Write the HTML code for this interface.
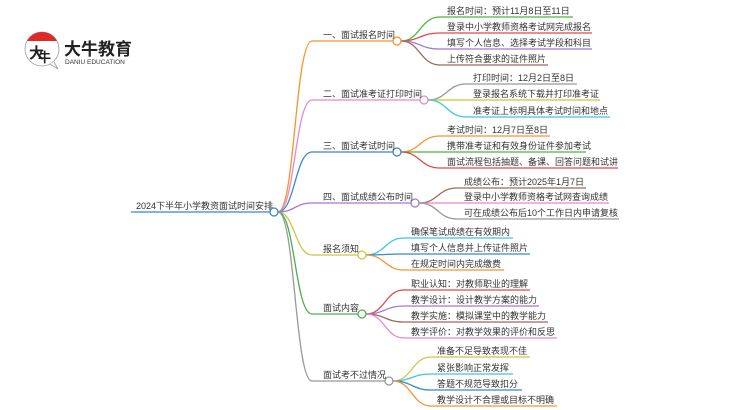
<!DOCTYPE html>
<html><head><meta charset="utf-8"><style>
html,body{margin:0;padding:0;background:#fff;}
svg{display:block;}
text{font-family:"Liberation Sans","Noto Sans CJK SC",sans-serif;font-size:9px;fill:#333;}
</style></head><body>
<svg width="750" height="410" viewBox="0 0 750 410" xmlns="http://www.w3.org/2000/svg">
<!-- logo -->
<circle cx="42" cy="49" r="17" fill="#fff" stroke="#999" stroke-width="0.8"/>
<path d="M27 41 A17 17 0 0 1 57 41 Z" fill="#e02a2a"/>
<path d="M50 64 L58 69 L54 62" fill="#fff" stroke="#999" stroke-width="0.8"/>
<text x="29" y="58" style="font-size:15px;fill:#222;font-weight:bold">大</text>
<text x="38" y="62" style="font-size:13px;fill:#222;font-weight:bold">牛</text>
<text x="64" y="55" style="font-size:17px;fill:#222;font-weight:bold">大牛教育</text>
<text x="65" y="64" style="font-size:6.5px;fill:#333">DANIU EDUCATION</text>

<g fill="none" stroke-width="1.3">
<path d="M131 212 L270 212" stroke="#3a87c8"/>
<path d="M278 212 C295 212,295 41,312 41 L393 41" stroke="#f7942d"/>
<path d="M278 212 C295 212,295 100,312 100 L420 100" stroke="#e889c8"/>
<path d="M278 212 C295 212,295 152,312 152 L393 152" stroke="#3a87c8"/>
<path d="M278 212 C295 212,295 203,312 203 L411 203" stroke="#a07bd0"/>
<path d="M278 212 C295 212,295 255,312 255 L358 255" stroke="#c8c84a"/>
<path d="M278 212 C295 212,295 314,312 314 L358 314" stroke="#4caf50"/>
<path d="M278 212 C295 212,295 381,312 381 L385 381" stroke="#999"/>
<path d="M401 41 C420 41,420 17,440 17 L573 17" stroke="#4bb83a"/>
<path d="M401 41 C420 41,420 33,440 33 L592 33" stroke="#e04848"/>
<path d="M401 41 C420 41,420 49,440 49 L592 49" stroke="#a07bd0"/>
<path d="M401 41 C420 41,420 65,440 65 L548 65" stroke="#9a6a5a"/>
<path d="M428 100 C447 100,447 84,466 84 L577 84" stroke="#999"/>
<path d="M428 100 C447 100,447 100,466 100 L600 100" stroke="#c8c83a"/>
<path d="M428 100 C447 100,447 117,466 117 L610 117" stroke="#3cc8dc"/>
<path d="M401 152 C420 152,420 136,440 136 L550 136" stroke="#f7942d"/>
<path d="M401 152 C420 152,420 152,440 152 L586 152" stroke="#4bb83a"/>
<path d="M401 152 C420 152,420 168,440 168 L618 168" stroke="#e04848"/>
<path d="M419 203 C438 203,438 188,457 188 L586 188" stroke="#9a6a5a"/>
<path d="M419 203 C438 203,438 203,457 203 L609 203" stroke="#e889c8"/>
<path d="M419 203 C438 203,438 219,457 219 L619 219" stroke="#999"/>
<path d="M366 255 C385 255,385 238,404 238 L513 238" stroke="#3cc8dc"/>
<path d="M366 255 C385 255,385 254,404 254 L530 254" stroke="#3a87c8"/>
<path d="M366 255 C385 255,385 270,404 270 L504 270" stroke="#f7942d"/>
<path d="M366 314 C385 314,385 290,404 290 L530 290" stroke="#e04848"/>
<path d="M366 314 C385 314,385 306,404 306 L539 306" stroke="#a07bd0"/>
<path d="M366 314 C385 314,385 322,404 322 L548 322" stroke="#9a6a5a"/>
<path d="M366 314 C385 314,385 338,404 338 L557 338" stroke="#e889c8"/>
<path d="M393 381 C412 381,412 357,431 357 L530 357" stroke="#c8c84a"/>
<path d="M393 381 C412 381,412 374,431 374 L513 374" stroke="#3cc8dc"/>
<path d="M393 381 C412 381,412 390,431 390 L522 390" stroke="#3a87c8"/>
<path d="M393 381 C412 381,412 406,431 406 L557 406" stroke="#f7942d"/>
</g>
<g fill="#fff" stroke-width="1.3">
<circle cx="274" cy="212" r="4" stroke="#3a87c8"/>
<circle cx="397" cy="41" r="4" stroke="#f7942d"/>
<circle cx="424" cy="100" r="4" stroke="#e889c8"/>
<circle cx="397" cy="152" r="4" stroke="#3a87c8"/>
<circle cx="415" cy="203" r="4" stroke="#a07bd0"/>
<circle cx="362" cy="255" r="4" stroke="#c8c84a"/>
<circle cx="362" cy="314" r="4" stroke="#4caf50"/>
<circle cx="389" cy="381" r="4" stroke="#999"/>
</g>
<text x="136" y="209">2024下半年小学教资面试时间安排</text>
<text x="323" y="38">一、面试报名时间</text>
<text x="323" y="97">二、面试准考证打印时间</text>
<text x="323" y="149">三、面试考试时间</text>
<text x="323" y="200">四、面试成绩公布时间</text>
<text x="323" y="252">报名须知</text>
<text x="323" y="311">面试内容</text>
<text x="323" y="378">面试考不过情况</text>

<text x="447" y="14">报名时间：预计11月8日至11日</text>
<text x="447" y="30">登录中小学教师资格考试网完成报名</text>
<text x="447" y="46">填写个人信息、选择考试学段和科目</text>
<text x="447" y="62">上传符合要求的证件照片</text>
<text x="473" y="81">打印时间：12月2日至8日</text>
<text x="473" y="97">登录报名系统下载并打印准考证</text>
<text x="473" y="114">准考证上标明具体考试时间和地点</text>
<text x="447" y="133">考试时间：12月7日至8日</text>
<text x="447" y="149">携带准考证和有效身份证件参加考试</text>
<text x="447" y="165">面试流程包括抽题、备课、回答问题和试讲</text>
<text x="464" y="185">成绩公布：预计2025年1月7日</text>
<text x="464" y="200">登录中小学教师资格考试网查询成绩</text>
<text x="464" y="216">可在成绩公布后10个工作日内申请复核</text>
<text x="411" y="235">确保笔试成绩在有效期内</text>
<text x="411" y="251">填写个人信息并上传证件照片</text>
<text x="411" y="267">在规定时间内完成缴费</text>
<text x="411" y="287">职业认知：对教师职业的理解</text>
<text x="411" y="303">教学设计：设计教学方案的能力</text>
<text x="411" y="319">教学实施：模拟课堂中的教学能力</text>
<text x="411" y="335">教学评价：对教学效果的评价和反思</text>
<text x="437" y="354">准备不足导致表现不佳</text>
<text x="437" y="371">紧张影响正常发挥</text>
<text x="437" y="387">答题不规范导致扣分</text>
<text x="437" y="403">教学设计不合理或目标不明确</text>
</svg>
</body></html>
